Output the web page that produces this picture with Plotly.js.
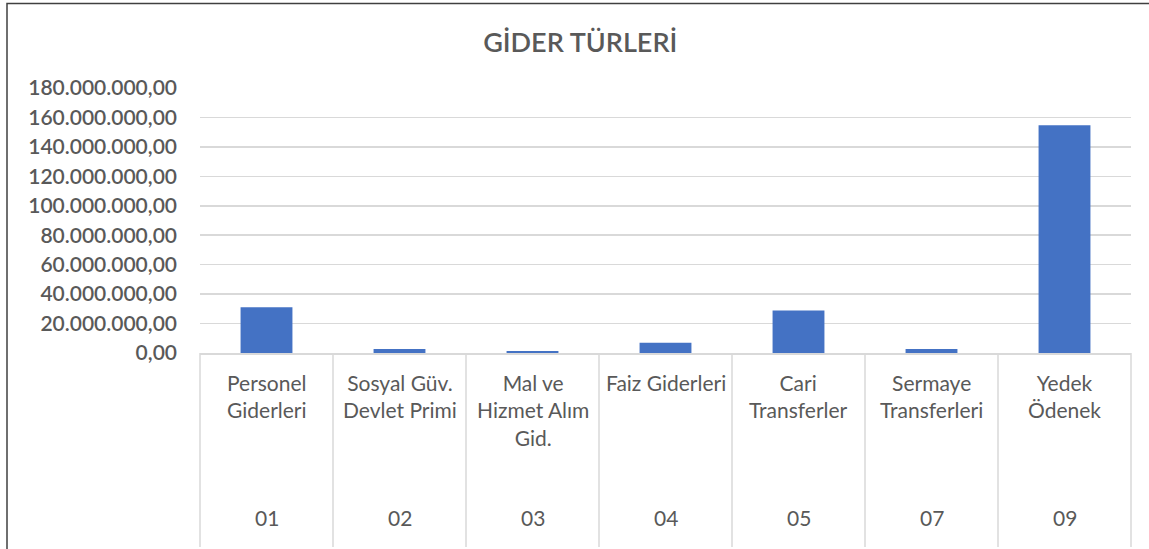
<!DOCTYPE html>
<html>
<head>
<meta charset="utf-8">
<script src="https://cdn.plot.ly/plotly-3.0.1.min.js"></script>
<style>
html,body{margin:0;padding:0;background:#fff;}
#chart{width:1149px;height:549px;}
</style>
</head>
<body>
<div id="chart"></div>
<script>
// Data
var codes = ["01", "02", "03", "04", "05", "07", "09"];
var names = ["Personel<br>Giderleri", "Sosyal Güv.<br>Devlet Primi", "Mal ve<br>Hizmet Alım<br>Gid.", "Faiz Giderleri", "Cari<br>Transferler", "Sermaye<br>Transferleri", "Yedek<br>Ödenek"];
var values = [31000000, 2700000, 1400000, 7000000, 28800000, 2700000, 154700000];
var titleText = "GİDER TÜRLERİ";

var textColor = "#595959";
var gridColor = "#d9d9d9";
var fontFam = "Lato, 'Open Sans', sans-serif";

var n = codes.length;
var annotations = [];
var shapes = [];
for (var i = 0; i < n; i++) {
  annotations.push({
    x: i, xref: "x", y: -0.058, yref: "paper",
    text: names[i], showarrow: false, yanchor: "top", xanchor: "center",
    align: "center", font: {family: fontFam, size: 21, color: textColor}
  });
  annotations.push({
    x: i, xref: "x", y: -0.62, yref: "paper",
    text: codes[i], showarrow: false, yanchor: "middle", xanchor: "center",
    font: {family: fontFam, size: 21, color: textColor}
  });
}
for (var k = 0; k <= n; k++) {
  shapes.push({
    type: "line", xref: "paper", yref: "paper",
    x0: k / n, x1: k / n, y0: 0, y1: -0.732,
    line: {color: gridColor, width: 1.5}
  });
}
// outer chart border (left and top)
shapes.push({
  type: "path", xref: "paper", yref: "paper",
  path: "M -0.2073,-0.75 L -0.2073,1.3189 L 1.02,1.3189",
  line: {color: "#404040", width: 1.5}
});

var trace = {
  type: "bar",
  x: codes,
  y: values,
  marker: {color: "#4472C4"},
  hoverinfo: "x+y"
};

var layout = {
  width: 1149, height: 549,
  margin: {l: 200, r: 18, t: 88, b: 196, pad: 0},
  paper_bgcolor: "#ffffff", plot_bgcolor: "#ffffff",
  separators: ",.",
  showlegend: false,
  bargap: 0.61,
  title: {
    text: titleText, xref: "container", x: 0.505, xanchor: "center",
    yref: "container", y: 0.923, yanchor: "middle",
    font: {family: fontFam, size: 27, color: textColor, weight: 600}
  },
  xaxis: {
    type: "category", range: [-0.5, n - 0.5],
    showticklabels: false, showgrid: false, zeroline: false,
    showline: true, linecolor: gridColor, linewidth: 1.5, ticks: ""
  },
  yaxis: {
    range: [0, 180000000], dtick: 20000000, tick0: 0,
    tickformat: ",.2f", showgrid: true, gridcolor: gridColor, gridwidth: 1.5,
    zeroline: false, showline: false, ticks: "", ticklabelstandoff: 22,
    tickfont: {family: fontFam, size: 21, color: textColor, weight: 600}
  },
  annotations: annotations,
  shapes: shapes,
  font: {family: fontFam, color: textColor}
};

Plotly.newPlot("chart", [trace], layout, {displayModeBar: false, staticPlot: true});
</script>
</body>
</html>
